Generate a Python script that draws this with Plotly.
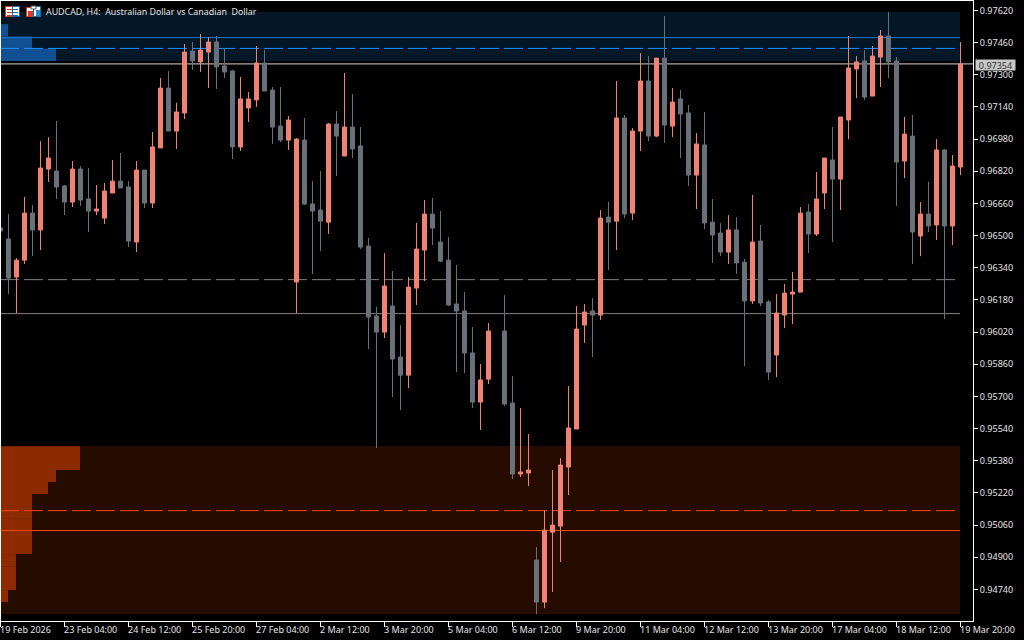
import plotly.graph_objects as go

# Prices in points (1 point = 0.00001). k=62 has no visible candle.
open_pts = [96538,96483,96294,96378,96612,96528,96831,96821,96747,96667,96831,96682,96622,96587,96712,96771,96742,96468,96826,96662,
96936,97234,97020,97110,97418,97364,97413,97463,97344,97319,96941,97135,97175,97359,97224,97045,96975,96269,96975,96657,
96627,96567,97055,96896,97040,96946,96448,96100,96020,96150,95896,95806,96239,96428,96607,96468,96378,96160,96125,95916,
95672,95786,None,96025,95667,95314,95319,94886,94677,95025,95055,95349,95538,96055,96125,96105,96592,96572,97085,96612,
97020,97269,96995,97383,97045,97180,97110,96801,96951,96567,96513,96418,96528,96368,96175,96473,96170,95906,96105,96209,
96219,96617,96508,96712,96876,96781,97075,97329,97369,97194,97388,97493,97369,96871,96995,96498,96607,96553,96926,96548,96841]
high_pts = [96538,96607,96388,96692,96652,96970,96990,97070,96752,96871,96846,96836,96752,96762,96876,96911,96771,96871,96826,97015,
97284,97319,97160,97453,97463,97503,97488,97493,97433,97324,97289,97214,97443,97423,97239,97239,97095,96985,97085,96771,
96821,97060,97120,97309,97204,97040,96488,96145,96413,96324,96055,96294,96563,96677,96687,96622,96493,96354,96219,96045,
95861,96065,None,96204,95801,95642,95513,94951,95135,95334,95393,95752,96150,96160,96189,96627,96667,97269,97100,97035,
97408,97393,97383,97592,97234,97224,97150,97010,97115,96682,96563,96602,96592,96384,96702,96553,96180,96209,96259,96319,
96642,96657,96816,96886,97040,97090,97493,97393,97423,97443,97523,97612,97388,97090,97100,96667,96767,96980,96931,96901,97463]
low_pts = [96523,96209,96115,96359,96398,96428,96767,96682,96602,96642,96647,96518,96602,96558,96712,96737,96443,96418,96637,96637,
96936,97020,96931,97080,97324,97314,97234,97229,97284,96881,96921,97065,97140,97219,96956,96965,96926,96115,96652,96309,
96423,96508,96796,96896,96886,96433,95936,95443,95990,95697,95632,95742,96155,96274,96453,96368,96150,95821,95816,95642,
95533,95762,None,95652,95289,95299,95254,94617,94647,94727,94876,95209,95538,95966,95896,96080,96329,96428,96587,96577,
96921,96970,96990,96961,96990,96886,96747,96632,96533,96364,96398,96359,96309,95851,96160,96150,95782,95796,96040,96060,
96219,96413,96498,96632,96468,96627,96980,97184,97175,97194,97239,97284,96647,96786,96359,96398,96518,96478,96085,96453,96801]
close_pts = [96523,96289,96378,96612,96528,96836,96886,96742,96667,96831,96677,96622,96632,96722,96771,96737,96473,96826,96662,96941,
97234,97020,97115,97413,97369,97423,97463,97339,97314,96941,97180,97180,97359,97219,97040,96975,97075,96980,96657,96622,
96572,97055,96995,97040,96931,96443,96095,96020,96249,95886,95806,96244,96433,96607,96538,96373,96155,96125,95916,95672,
95782,96025,None,95662,95314,95324,95334,94677,95035,95060,95359,95543,96035,96120,96105,96587,96567,97085,96607,97020,
97269,96995,97383,97050,97164,97105,96801,96956,96563,96503,96418,96528,96364,96175,96468,96165,95821,96115,96214,96219,
96612,96508,96682,96886,96781,97090,97334,97364,97189,97393,97493,97364,96866,97005,96518,96607,96548,96926,96548,96846,97354]

def price(points):
    return [None if v is None else v / 100000 for v in points]

candle_index = list(range(len(open_pts)))

y_ticks = [0.97620,0.97460,0.97300,0.97140,0.96980,0.96820,0.96660,0.96500,0.96340,0.96180,0.96020,0.95860,
           0.95700,0.95540,0.95380,0.95220,0.95060,0.94900,0.94740]
x_tick_index = [0,8,16,24,32,40,48,56,64,72,80,88,96,104,112,120]
x_tick_labels = ["19 Feb 2026","23 Feb 04:00","24 Feb 12:00","25 Feb 20:00","27 Feb 04:00","2 Mar 12:00",
                 "3 Mar 20:00","5 Mar 04:00","6 Mar 12:00","9 Mar 20:00","11 Mar 04:00","12 Mar 12:00",
                 "13 Mar 20:00","17 Mar 04:00","18 Mar 12:00","19 Mar 20:00"]

# Zones (price bounds) and profile histograms (rows of candle counts)
blue_zone = (0.97612, 0.97369)
red_zone = (0.95453, 0.94617)
blue_rows = [0.97582, 0.97521, 0.97460, 0.97399]
blue_counts = [0, 1, 4, 7]
blue_row_h = 0.00061
red_rows = [0.95423,0.95364,0.95304,0.95244,0.95185,0.95125,0.95065,0.95005,0.94946,0.94886,0.94826,0.94767,0.94707,0.94647]
red_counts = [10,10,7,6,4,4,4,4,4,2,2,2,1,0]
red_row_h = 0.000597

# Levels
blue_solid, blue_dash = 0.97485, 0.97431
bid = 0.97354
gray_dash, gray_solid = 0.96281, 0.96112
orange_dash, orange_solid = 0.95132, 0.95033

C_BG = "#000000"
C_UP = "#EF8272"
C_DN = "#6A7079"
C_TXT = "#E4E4E4"
FONT = "Noto Sans"
FS = 9
X_RANGE = [-0.0625, 121.5625]
Y_RANGE = [0.94583, 0.97667]
LEFT = -0.0625
ZONE_END = 119.94
DASH_END = 119.3
DASH = "19px,5px"

fig = go.Figure()

fig.add_trace(go.Bar(orientation="h", y=blue_rows, x=blue_counts, base=LEFT, width=blue_row_h,
                     marker=dict(color="#115092", line=dict(width=0)), hoverinfo="skip", showlegend=False))
fig.add_trace(go.Bar(orientation="h", y=red_rows, x=red_counts, base=LEFT, width=red_row_h,
                     marker=dict(color="#8C2A00", line=dict(width=0)), hoverinfo="skip", showlegend=False))

def level(y, color, x1, dash=None):
    fig.add_trace(go.Scatter(x=[LEFT, x1], y=[y, y], mode="lines",
                             line=dict(color=color, width=1, dash=dash or "solid"),
                             hoverinfo="skip", showlegend=False))

level(blue_solid, "#1E78D2", ZONE_END)
level(blue_dash, "#1E90FF", DASH_END, DASH)
level(bid, "#D4D4D4", X_RANGE[1])
level(gray_dash, "#808080", DASH_END, DASH)
level(gray_solid, "#808080", ZONE_END)
level(orange_dash, "#FF4500", DASH_END, DASH)
level(orange_solid, "#FF4500", ZONE_END)

fig.add_trace(go.Candlestick(
    x=candle_index, open=price(open_pts), high=price(high_pts), low=price(low_pts), close=price(close_pts),
    xaxis="x2", yaxis="y2", whiskerwidth=0,
    increasing=dict(line=dict(color=C_UP, width=1), fillcolor=C_UP),
    decreasing=dict(line=dict(color=C_DN, width=1), fillcolor=C_DN),
    hoverinfo="skip", showlegend=False))

W, H = 1024, 640
L, T, R, B = 0, 1, 51, 19
PW, PH = W - L - R, H - T - B
def px(x): return (x - L) / PW
def py(y): return 1 - (y - T) / PH

shapes = [
    dict(type="rect", xref="x", yref="y", x0=LEFT, x1=ZONE_END, y0=blue_zone[1], y1=blue_zone[0],
         fillcolor="#031726", line_width=0, layer="below"),
    dict(type="rect", xref="x", yref="y", x0=LEFT, x1=ZONE_END, y0=red_zone[1], y1=red_zone[0],
         fillcolor="#260B00", line_width=0, layer="below"),
    dict(type="line", xref="paper", yref="paper", x0=px(0.5), x1=px(0.5), y0=0, y1=1,
         line=dict(color="#FFFFFF", width=1), layer="above"),
]

def icon_rect(x0, y0, x1, y1, fill, line=None):
    shapes.append(dict(type="rect", xref="paper", yref="paper", x0=px(x0), x1=px(x1), y0=py(y1), y1=py(y0),
                       fillcolor=fill, line=dict(color=line or fill, width=1 if line else 0), layer="above"))

# icon: split list
icon_rect(5.5, 6.5, 12.5, 16.5, "#FFFFFF", "#D93A26")
icon_rect(12.5, 6.5, 19.5, 16.5, "#FFFFFF", "#1268B3")
for yy in (9, 12, 15):
    icon_rect(7, yy, 12, yy + 1, "#D93A26")
    icon_rect(13, yy, 18, yy + 1, "#1268B3")
# icon: disks
icon_rect(26.5, 7.5, 33.5, 16.5, "#FFFFFF", "#D93A26")
icon_rect(33.5, 6.5, 40.5, 16.5, "#FFFFFF", "#1268B3")
icon_rect(31, 6, 36, 9, "#FFFFFF", "#555555")
icon_rect(36, 10, 40, 16, "#1F8AD6")
icon_rect(28, 11, 33, 16, "#D93A26")

annotations = [
    dict(xref="paper", yref="paper", x=px(44), y=py(11.5), xanchor="left", yanchor="middle", showarrow=False,
         text="AUDCAD, H4:\u00a0 Australian Dollar vs Canadian\u00a0 Dollar",
         font=dict(family=FONT, size=8.85, color=C_TXT)),
    dict(xref="paper", yref="paper", x=px(975), y=py(64.5), xanchor="left", yanchor="middle", showarrow=False,
         text=f"{bid:.5f}", bgcolor="#C8C8C8", borderpad=0, width=39, height=10, align="center",
         font=dict(family=FONT, size=FS, color="#303030")),
]
for k, label in zip(x_tick_index, x_tick_labels):
    annotations.append(dict(xref="x", yref="paper", x=k, y=py(630), xanchor="left", yanchor="middle", xshift=-3,
                            showarrow=False, text=label, font=dict(family=FONT, size=FS, color=C_TXT)))

fig.update_layout(
    width=W, height=H, autosize=False,
    margin=dict(l=L, r=R, t=T, b=B, pad=0),
    paper_bgcolor=C_BG, plot_bgcolor=C_BG,
    showlegend=False, barmode="overlay", hovermode=False,
    shapes=shapes, annotations=annotations,
    font=dict(family=FONT, size=FS, color=C_TXT),
    xaxis=dict(range=X_RANGE, showgrid=False, zeroline=False, showline=True, linecolor="#FFFFFF", linewidth=1,
               mirror=True, ticks="outside", ticklen=5, tickcolor="#FFFFFF", tickwidth=1,
               tickmode="array", tickvals=x_tick_index, showticklabels=False, fixedrange=True),
    yaxis=dict(range=Y_RANGE, side="right", showgrid=False, zeroline=False, showline=True, linecolor="#FFFFFF",
               linewidth=1, ticks="outside", ticklen=4, tickcolor="#FFFFFF", tickwidth=1,
               tickmode="array", tickvals=y_ticks, ticktext=[f"{v:.5f}" for v in y_ticks],
               tickfont=dict(family=FONT, size=FS, color=C_TXT), fixedrange=True),
    xaxis2=dict(range=X_RANGE, overlaying="x", visible=False, rangeslider=dict(visible=False), fixedrange=True),
    yaxis2=dict(range=Y_RANGE, overlaying="y", visible=False, fixedrange=True),
    boxgap=0.286,
)

fig.write_html("out.html", config=dict(displayModeBar=False),
               post_script="document.body.style.margin='0';document.body.style.background='#000';document.documentElement.style.overflow='hidden';")
